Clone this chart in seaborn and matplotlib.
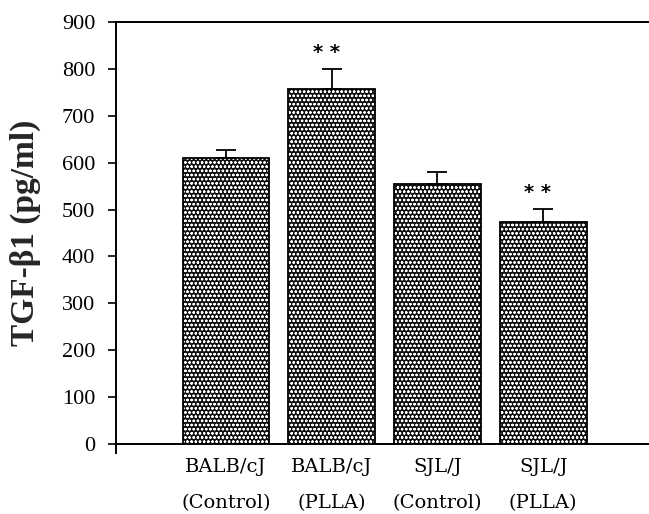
import numpy as np
import pandas as pd
import matplotlib
matplotlib.use("Agg")
import matplotlib.pyplot as plt
import seaborn as sns

groups = ["BALB/cJ\n(Control)", "BALB/cJ\n(PLLA)", "SJL/J\n(Control)", "SJL/J\n(PLLA)"]
tgf_mean = [610, 757, 554, 473]
tgf_err = [17, 43, 26, 28]
stars = ["", "* *", "", "* *"]

df = pd.DataFrame({"group": groups, "tgf": tgf_mean})

sns.set_theme(style="white")
plt.rcParams["font.family"] = ["DejaVu Serif"]
plt.rcParams["hatch.linewidth"] = 0.6

fig = plt.figure(figsize=(6.49, 5.14), dpi=100)
ax = fig.add_axes([0.1787, 0.1362, 0.8213, 0.8210])

# textured fill (white dots on dark grey), then black outline on top
sns.barplot(data=df, x="group", y="tgf", color="#111111", width=0.82,
            edgecolor="white", linewidth=0, hatch="oooo", ax=ax)
sns.barplot(data=df, x="group", y="tgf", fill=False, width=0.82,
            edgecolor="black", linewidth=1.3, ax=ax)

xpos = np.arange(len(groups))
ax.errorbar(xpos, tgf_mean, yerr=[np.zeros(len(tgf_err)), tgf_err], fmt="none",
            ecolor="black", elinewidth=1.3, capsize=7, capthick=1.3)

for x, m, e, s in zip(xpos, tgf_mean, tgf_err, stars):
    if s:
        ax.text(x - 0.05, m + e + 36, s, ha="center", va="center",
                fontsize=14, fontweight="bold", color="black",
                family=["DejaVu Sans"])

ax.set_ylim(0, 900)
ax.set_xlim(-1.04, 4.0)
ax.set_yticks(range(0, 1000, 100))
ax.set_xlabel("")
ax.set_ylabel("TGF-β1 (pg/ml)", fontsize=24, fontweight="bold",
              family=["Liberation Serif", "DejaVu Serif"], labelpad=15)

ax.tick_params(axis="y", direction="out", length=6, width=1.2, pad=9,
               left=True, colors="black")
ax.tick_params(axis="x", length=0, pad=10, colors="black")
for lbl in ax.get_yticklabels():
    lbl.set_family(["Liberation Serif"])
    lbl.set_fontsize(16)
for lbl in ax.get_xticklabels():
    lbl.set_fontsize(14)
    lbl.set_linespacing(2.3)
    lbl.set_va("top")

for side in ["left", "top", "bottom"]:
    ax.spines[side].set_visible(True)
    ax.spines[side].set_color("black")
    ax.spines[side].set_linewidth(1.4)
ax.spines["right"].set_visible(False)
ax.spines["left"].set_bounds(-19, 900)

fig.savefig("out.png", dpi=100)
